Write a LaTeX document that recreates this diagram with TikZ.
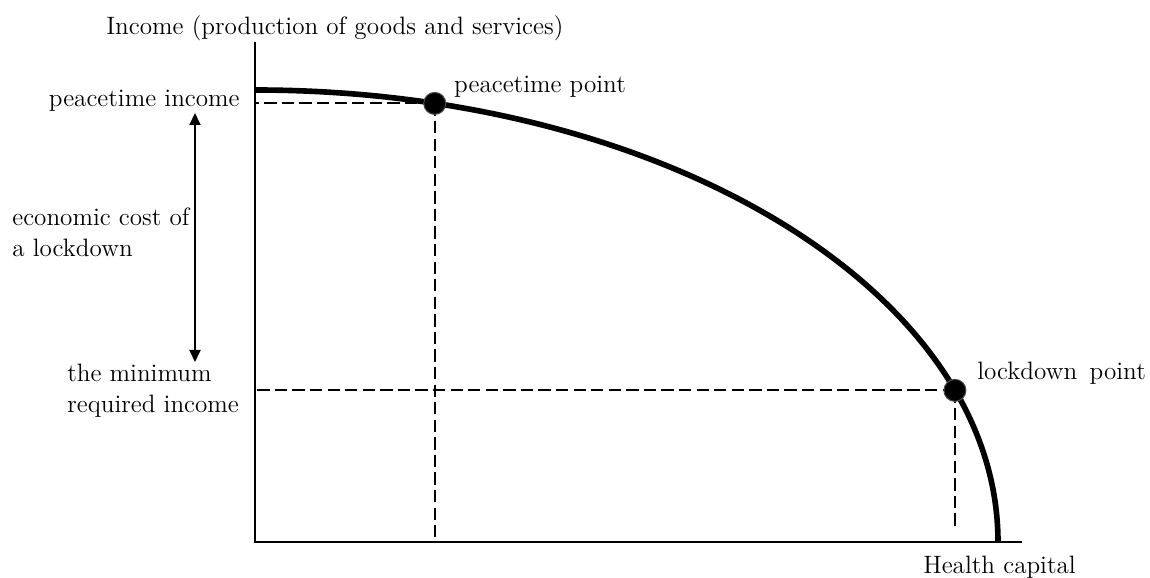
\documentclass[tikz,border=0pt]{standalone}
\usepackage{tikz}
\usetikzlibrary{calc,positioning,arrows.meta}
\tikzset{
  axisline/.style={line width=1.6pt},
  frontier/.style={line width=3.2pt},
  guide/.style={line width=1.1pt,dash pattern=on 7pt off 3pt},
  dotpt/.style={circle,fill=black,draw=black!70,line width=0.6pt,minimum size=4.4mm,inner sep=0pt},
  lbl/.style={font=\fontsize{14.3}{17.6}\selectfont,inner sep=0pt,align=left}
}

\begin{document}
\begin{tikzpicture}
\useasboundingbox (-5.1,-0.7) rectangle (17.9,10.84);
% axes
\coordinate (o) at (0,0);
\coordinate (ytop) at (0,10);
\coordinate (xend) at (15.34,0);
\draw[axisline] (ytop) -- (o) -- (xend);
% frontier
\draw[frontier] (0,9.04) arc[start angle=90,end angle=0,x radius=14.86,y radius=9.04];
\coordinate (pc) at (76:14.86 and 9.04);
\coordinate (lc) at (19.6:14.86 and 9.04);
% guides
\draw[guide] (pc) -- (pc -| o);
\draw[guide] (pc) -- ($(pc |- o)+(0,0.1)$);
\draw[guide] (lc) -- (lc -| o);
\draw[guide] (lc) -- ($(lc |- o)+(0,0.28)$);
\node[dotpt] (peace) at (pc) {};
\node[dotpt] (lock) at (lc) {};
% labels
\node[lbl,anchor=west] (ylab) at (-2.98,10.28) {Income (production of goods and services)};
\node[lbl,anchor=east] (pinc) at (-0.3,8.82) {peacetime income};
\node[lbl,anchor=south west] (ppt) at ($(peace.north east)+(0.22,-0.05)$) {peacetime point};
\node[lbl,anchor=west] (cost) at (-4.86,6.2) {economic cost of\\a lockdown};
\node[lbl,anchor=west] (minc) at (-3.76,3.02) {the minimum\\required income};
\node[lbl,anchor=west] (lpt) at (14.44,3.38) {lockdown\hspace{0.5em}point};
\node[lbl,anchor=west] (xlab) at (13.36,-0.5) {Health capital};
% cost arrow
\coordinate (atop) at (-1.2,8.58);
\coordinate (abot) at (-1.2,3.6);
\draw[line width=1.1pt,{Triangle[length=2.4mm,width=2.2mm]}-{Triangle[length=2.4mm,width=2.2mm]}] (atop) -- (abot);
\end{tikzpicture}
\end{document}
